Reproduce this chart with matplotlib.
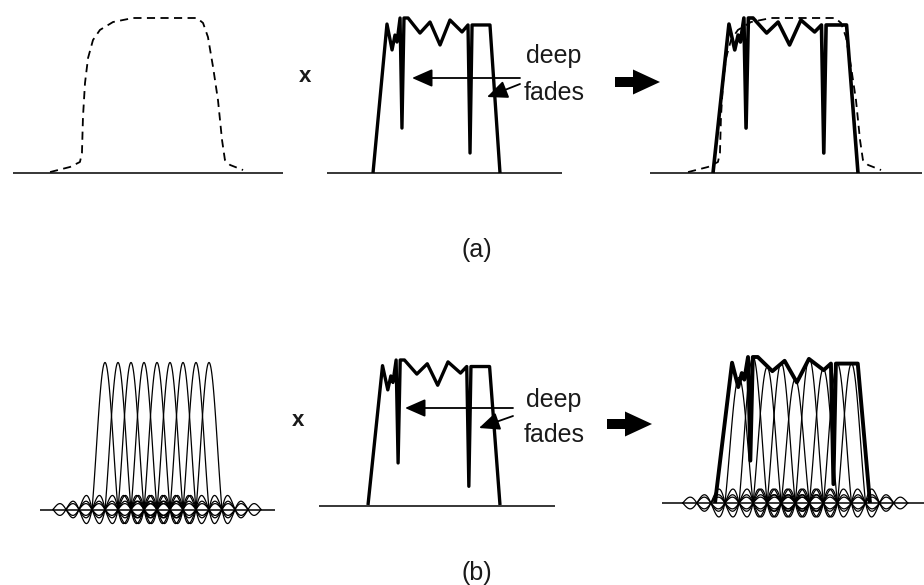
import numpy as np
import matplotlib
matplotlib.use("Agg")
import matplotlib.pyplot as plt
from matplotlib.transforms import Affine2D
from matplotlib.patches import FancyArrow

# Frequency-selective channel: normalised frequency (0..1 across the band) and gain
channel_freq = [0.000, 0.110, 0.150, 0.173, 0.189, 0.213, 0.228, 0.244, 0.276,
                0.370, 0.449, 0.528, 0.606, 0.701, 0.748, 0.764, 0.780, 0.921, 1.000]
channel_gain = [0.000, 0.961, 0.794, 0.890, 0.845, 1.000, 0.290, 1.000, 1.000,
                0.903, 0.974, 0.826, 0.987, 0.910, 0.955, 0.129, 0.955, 0.955, 0.000]

# Single-carrier transmit spectrum (dashed), same frequency units
tx_freq = [-0.172, -0.034, 0.034, 0.048, 0.055, 0.069, 0.090, 0.124, 0.172, 0.262,
           0.400, 0.634, 0.841, 0.883, 0.917, 0.952, 0.986, 1.014, 1.034, 1.069, 1.159]
tx_gain = [0.006, 0.039, 0.071, 0.129, 0.361, 0.581, 0.742, 0.858, 0.923, 0.974,
           1.000, 1.000, 1.000, 0.968, 0.877, 0.684, 0.471, 0.213, 0.084, 0.052, 0.019]

# OFDM subcarriers and their gains after passing through the channel
subcarriers = [0, 1, 2, 3, 4, 5, 6, 7, 8]
sub_gain_faded = [0.86, 1.00, 0.93, 0.96, 0.85, 0.99, 0.92, 0.955, 0.955]
sidelobe_scale = 0.44
n_sidelobes = 3

W, H = 924, 585
fig = plt.figure(figsize=(W / 100, H / 100), dpi=100)
ax = fig.add_axes([0, 0, 1, 1])
ax.set_xlim(0, W)
ax.set_ylim(H, 0)
ax.axis("off")

FONT = "Liberation Sans"
INK = "black"
TXT = "#1a1a1a"


def place(x0, base, sx, sy):
    """Map (frequency, gain) of a panel onto the page."""
    return Affine2D().scale(sx, -sy).translate(x0, base) + ax.transData


def baseline(x1, x2, y):
    ax.plot([x1, x2], [y, y], color=INK, lw=1.1, solid_capstyle="butt")


def channel(tr, lw=2.4):
    ax.plot(channel_freq, channel_gain, color=INK, lw=lw, transform=tr,
            solid_joinstyle="round", solid_capstyle="butt")


def tx_spectrum(tr):
    ax.plot(tx_freq, tx_gain, color=INK, lw=1.3, dashes=(4.5, 3.0), transform=tr)


def subcarrier_set(tr, gains):
    for k, g in zip(subcarriers, gains):
        u = np.linspace(-1, 1, 121)
        ax.plot(k + u, g * np.sinc(u), color=INK, lw=0.9, transform=tr)
        for side in (-1, 1):
            us = np.linspace(1, 1 + n_sidelobes, 181)
            lobe = sidelobe_scale * np.abs(np.sinc(us))
            for sgn in (1, -1):
                ax.plot(k + side * us, sgn * lobe, color=INK, lw=0.9, transform=tr)


def fade_labels(x, y_deep, y_fades, fs):
    ax.text(x, y_deep, "deep", ha="center", va="baseline", fontsize=fs,
            family=FONT, color=TXT)
    ax.text(x, y_fades, "fades", ha="center", va="baseline", fontsize=fs,
            family=FONT, color=TXT)


def pointer(start, tip):
    ax.annotate("", xy=tip, xytext=start,
                arrowprops=dict(arrowstyle="-|>,head_length=1.25,head_width=0.55",
                                mutation_scale=10, lw=1.3, color=INK,
                                shrinkA=0, shrinkB=0))


def block_arrow(x, y, length):
    ax.add_patch(FancyArrow(x, y, length, 0, width=10, head_width=25,
                            head_length=27, length_includes_head=True,
                            color=INK, lw=0))


# ---------------- (a) single carrier ----------------
baseline(13, 283, 173)
tx_spectrum(place(75, 173, 145, 155))

ax.text(305, 77, "x", ha="center", va="center", fontsize=16, fontweight="bold",
        family=FONT, color=TXT)

baseline(327, 562, 173)
channel(place(373, 173, 127, 155))
pointer((520, 78), (412, 78))
pointer((520, 84), (487, 97))
fade_labels(554, 63, 100, 18)

block_arrow(615, 82, 45)

baseline(650, 922, 173)
tx_spectrum(place(713, 173, 145, 155))
channel(place(713, 173, 145, 155), lw=2.6)

ax.text(477, 250, "(a)", ha="center", va="center", fontsize=18,
        family=FONT, color=TXT)

# ---------------- (b) OFDM ----------------
baseline(40, 275, 509.5)
subcarrier_set(place(105, 509.5, 13, 147), [1.0] * len(subcarriers))

ax.text(298, 421, "x", ha="center", va="center", fontsize=16, fontweight="bold",
        family=FONT, color=TXT)

baseline(319, 555, 505.5)
channel(place(368, 505, 132, 145))
pointer((513, 408), (405, 408))
pointer((513, 416), (479, 428))
fade_labels(554, 407, 442, 18)

block_arrow(607, 424, 45)

baseline(662, 924, 503)
subcarrier_set(place(739, 503, 14.06, 146), sub_gain_faded)
channel(place(715, 503, 155, 146), lw=2.8)

ax.text(477, 573, "(b)", ha="center", va="center", fontsize=18,
        family=FONT, color=TXT)

fig.savefig("out.png", dpi=100)
